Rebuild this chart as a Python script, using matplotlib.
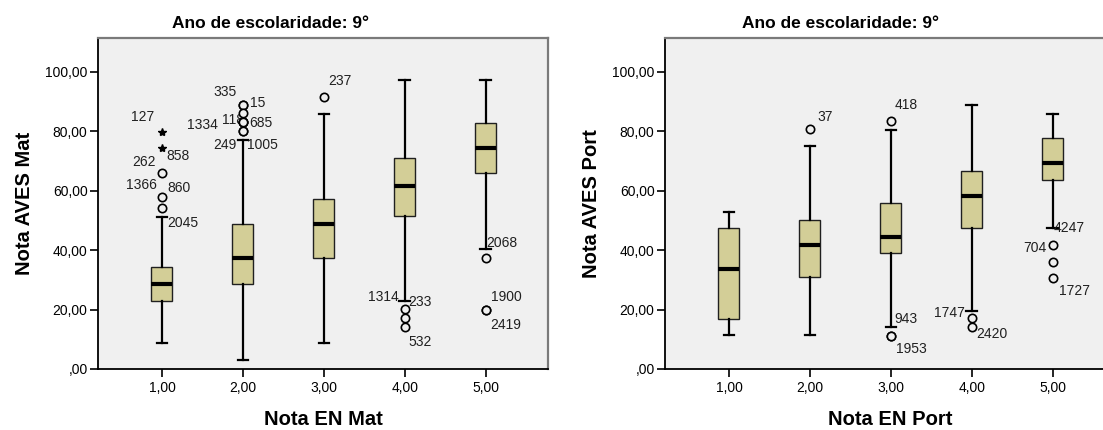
import matplotlib
matplotlib.use("Agg")
import matplotlib.pyplot as plt

plt.rcParams['font.family'] = ['Liberation Sans', 'DejaVu Sans']

# ---- data ----
groups = [1, 2, 3, 4, 5]
x_tick_labels = ['1,00', '2,00', '3,00', '4,00', '5,00']
y_ticks = [0, 20, 40, 60, 80, 100]
y_tick_labels = [',00', '20,00', '40,00', '60,00', '80,00', '100,00']
title_text = 'Ano de escolaridade: 9°'

# Matemática
mat_whislo = [8.8, 3.0, 8.8, 22.9, 40.2]
mat_q1 = [22.9, 28.6, 37.2, 51.5, 65.8]
mat_med = [28.7, 37.2, 48.6, 61.5, 74.4]
mat_q3 = [34.4, 48.6, 57.0, 71.1, 82.7]
mat_whishi = [51.2, 77.0, 85.6, 97.1, 97.1]
mat_outliers = [[65.8, 57.7, 54.3],
                [88.7, 88.7, 86.0, 83.1, 83.1, 83.1, 80.1, 80.1],
                [91.5],
                [20.1, 17.0, 14.2],
                [37.2, 20.0, 20.0]]
mat_extremes = [[79.8, 74.2], [], [], [], []]
mat_labels = [(1, 79.8, '127'), (1, 74.2, '858'), (1, 65.8, '262'),
              (1, 57.7, '1366'), (1, 57.7, '860'), (1, 54.3, '2045'),
              (2, 88.7, '335'), (2, 88.7, '15'), (2, 83.1, '1334'),
              (2, 83.1, '118'), (2, 83.1, '685'), (2, 80.1, '249'),
              (2, 80.1, '1005'), (3, 91.5, '237'), (4, 20.1, '1314'),
              (4, 20.1, '233'), (4, 14.2, '532'), (5, 37.2, '2068'),
              (5, 20.0, '1900'), (5, 20.0, '2419')]

# Português
port_whislo = [11.3, 11.3, 14.0, 19.6, 47.3]
port_q1 = [16.8, 30.8, 38.9, 47.3, 63.7]
port_med = [33.5, 41.7, 44.5, 58.3, 69.3]
port_q3 = [47.3, 50.1, 55.7, 66.6, 77.7]
port_whishi = [52.8, 75.1, 80.3, 88.7, 85.7]
port_outliers = [[], [80.7], [83.5, 11.1, 11.1], [17.0, 14.0], [41.7, 36.1, 30.5]]
port_extremes = [[], [], [], [], []]
port_labels = [(2, 80.7, '37'), (3, 83.5, '418'), (3, 11.1, '943'),
               (3, 11.1, '1953'), (4, 17.0, '1747'), (4, 14.0, '2420'),
               (5, 41.7, '4247'), (5, 41.7, '704'), (5, 30.5, '1727')]

# label placement (pixel offsets from the point, horizontal alignment)
mat_label_pos = [(-19, 15, 'center'), (4, -8, 'left'), (-18, 11, 'center'),
                 (-5, 12, 'right'), (5, 9, 'left'), (5, -15, 'left'),
                 (-18, 13, 'center'), (7, 2, 'left'), (-25, -3, 'right'),
                 (-21, 2, 'left'), (6, -1, 'left'), (-6, -14, 'right'),
                 (4, -14, 'left'), (4, 16, 'left'), (-6, 12, 'right'),
                 (4, 7, 'left'), (4, -15, 'left'), (1, 15, 'left'),
                 (5, 13, 'left'), (5, -15, 'left')]
port_label_pos = [(8, 12, 'left'), (4, 16, 'left'), (4, 17, 'left'),
                  (5, -13, 'left'), (-7, 5, 'right'), (5, -7, 'left'),
                  (1, 17, 'left'), (-6, -3, 'right'), (6, -13, 'left')]

BOX_COLOR = '#D3CE97'
BG = '#F0F0F0'


def draw_panel(ax, whislo, q1, med, q3, whishi, outliers, extremes,
               labels, label_pos, xlabel, ylabel):
    stats = []
    for i in range(len(groups)):
        stats.append(dict(whislo=whislo[i], q1=q1[i], med=med[i], q3=q3[i],
                          whishi=whishi[i], fliers=outliers[i]))
    ax.set_facecolor(BG)
    ax.bxp(stats, positions=groups, widths=0.26, capwidths=0.13,
           patch_artist=True, manage_ticks=False,
           boxprops=dict(facecolor=BOX_COLOR, edgecolor='#202020', linewidth=1.0),
           whiskerprops=dict(color='black', linewidth=1.6),
           capprops=dict(color='black', linewidth=1.6),
           medianprops=dict(color='black', linewidth=3.0),
           flierprops=dict(marker='o', markersize=6, markerfacecolor=BG,
                           markeredgecolor='black', markeredgewidth=1.2,
                           zorder=4))
    for g, vals in zip(groups, extremes):
        if vals:
            ax.plot([g] * len(vals), vals, linestyle='none', marker='*',
                    markersize=6, color='black', zorder=4)
    for (g, v, txt), (dx, dy, ha) in zip(labels, label_pos):
        ax.annotate(txt, xy=(g, v), xytext=(dx, dy), textcoords='offset pixels',
                    ha=ha, va='center', fontsize=10, color='#202020', zorder=3)

    ax.set_xlim(0.21, 5.77)
    ax.set_ylim(0, 111.3)
    ax.set_xticks(groups)
    ax.set_xticklabels(x_tick_labels)
    ax.set_yticks(y_ticks)
    ax.set_yticklabels(y_tick_labels)
    ax.tick_params(axis='both', direction='out', length=6, width=1.2,
                   labelsize=10, colors='black')
    ax.tick_params(axis='x', pad=3)
    ax.tick_params(axis='y', pad=1.5)
    for side in ['left', 'bottom']:
        ax.spines[side].set_color('black')
        ax.spines[side].set_linewidth(1.3)
    for side in ['top', 'right']:
        ax.spines[side].set_color('#7A7A7A')
        ax.spines[side].set_linewidth(1.6)
    ax.set_xlabel(xlabel, fontsize=14.5, fontweight='bold', va='top')
    ax.xaxis.set_label_coords(0.5, -0.124)
    ax.set_ylabel(ylabel, fontsize=14.5, fontweight='bold')
    ax.yaxis.set_label_coords(-0.143, 0.5)


W, H = 1103, 430
fig = plt.figure(figsize=(W / 100, H / 100), dpi=100)
fig.patch.set_facecolor('white')

ax1 = fig.add_axes([98 / W, 61 / H, 450 / W, 331 / H])
ax2 = fig.add_axes([665 / W, 61 / H, 450 / W, 331 / H])

draw_panel(ax1, mat_whislo, mat_q1, mat_med, mat_q3, mat_whishi,
           mat_outliers, mat_extremes, mat_labels, mat_label_pos,
           'Nota EN Mat', 'Nota AVES Mat')
draw_panel(ax2, port_whislo, port_q1, port_med, port_q3, port_whishi,
           port_outliers, port_extremes, port_labels, port_label_pos,
           'Nota EN Port', 'Nota AVES Port')

fig.text(270 / W, 1 - 24 / H, title_text, ha='center', va='center',
         fontsize=12.5, fontweight='bold')
fig.text(840 / W, 1 - 24 / H, title_text, ha='center', va='center',
         fontsize=12.5, fontweight='bold')

fig.savefig('out.png', dpi=100, facecolor='white')
